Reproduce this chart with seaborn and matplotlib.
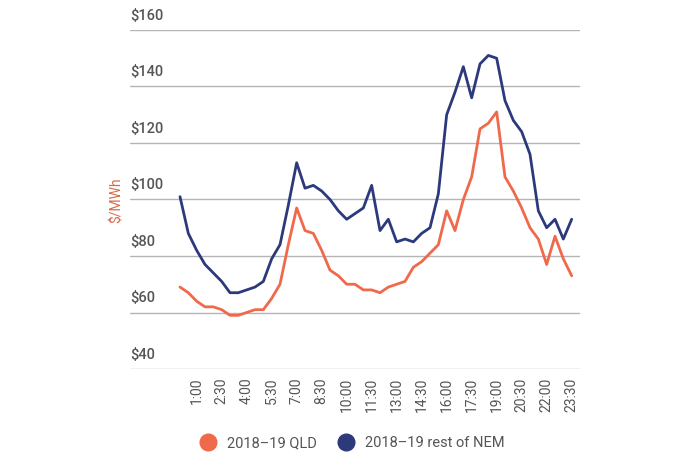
import matplotlib
matplotlib.use("Agg")
import matplotlib.pyplot as plt
import seaborn as sns
import pandas as pd
from matplotlib.lines import Line2D
from matplotlib.transforms import blended_transform_factory

# half-hourly times 0:00 .. 23:30
times = [f"{h}:{m:02d}" for h in range(24) for m in (0, 30)]
tick_labels = ["1:00", "2:30", "4:00", "5:30", "7:00", "8:30", "10:00", "11:30",
               "13:00", "14:30", "16:00", "17:30", "19:00", "20:30", "22:00", "23:30"]

rest_of_nem = [101, 88, 82, 77, 74, 71, 67, 67, 68, 69, 71, 79, 84, 98, 113, 104,
               105, 103, 100, 96, 93, 95, 97, 105, 89, 93, 85, 86, 85, 88, 90, 102,
               130, 138, 147, 136, 148, 151, 150, 135, 128, 124, 116, 96, 90, 93, 86, 93]
qld = [69, 67, 64, 62, 62, 61, 59, 59, 60, 61, 61, 65, 70, 84, 97, 89,
       88, 82, 75, 73, 70, 70, 68, 68, 67, 69, 70, 71, 76, 78, 81, 84,
       96, 89, 100, 108, 125, 127, 131, 108, 103, 97, 90, 86, 77, 87, 79, 73]
y_ticks = [40, 60, 80, 100, 120, 140, 160]

RED = "#F0694A"
BLUE = "#2C3A7C"
TEXT = "#555555"

sns.set_style("white")
plt.rcParams["font.family"] = ["Roboto", "DejaVu Sans"]

df = pd.DataFrame({"idx": range(len(times)), "QLD": qld, "NEM": rest_of_nem})

fig = plt.figure(figsize=(6.98, 4.67), dpi=100)
ax = fig.add_axes([130 / 698, 1 - 369 / 467, 450 / 698, 339 / 467])

sns.lineplot(data=df, x="idx", y="QLD", color=RED, linewidth=2, ax=ax)
sns.lineplot(data=df, x="idx", y="NEM", color=BLUE, linewidth=2, ax=ax)

ax.set_xlim(-6.0, 48.0)
ax.set_ylim(40, 160)
for v in y_ticks:
    ax.axhline(v, color="#b5b5b5", linewidth=1, zorder=0)
trans = blended_transform_factory(ax.transAxes, ax.transData)
for v in y_ticks:
    ax.text(0, v + 2.5, f"${v}", transform=trans, ha="left", va="bottom",
            fontsize=10.5, color=TEXT, fontweight="medium")
ax.set_yticks([])
ax.set_ylabel("")
fig.text(117 / 698, 1 - 200 / 467, "$/MWh", rotation=90, ha="center", va="center",
         fontsize=10, color="#D86A48")

ax.set_xticks([times.index(t) for t in tick_labels])
ax.set_xticklabels(tick_labels, rotation=90, fontsize=10, color=TEXT)
ax.tick_params(axis="x", length=0, pad=6)
ax.set_xlabel("")
sns.despine(ax=ax, left=True, bottom=True)

handles = [Line2D([], [], marker="o", linestyle="", markersize=12, color=RED),
           Line2D([], [], marker="o", linestyle="", markersize=12, color=BLUE)]
fig.legend(handles, ["2018\u201319 QLD", "2018\u201319 rest of NEM"], loc="center",
           bbox_to_anchor=(0.5, 1 - 443 / 467), ncol=2, frameon=False,
           fontsize=10.5, handletextpad=0.3, columnspacing=1.0,
           labelcolor=TEXT)

fig.savefig("out.png", dpi=100)
